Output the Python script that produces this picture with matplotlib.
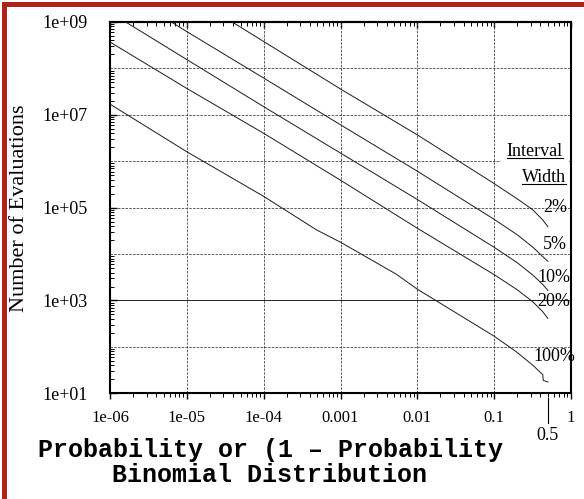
import matplotlib
matplotlib.use("Agg")
from matplotlib import pyplot as plt
from matplotlib.lines import Line2D
from matplotlib.patches import Rectangle
import numpy as np

# values (probability, number of evaluations)
p_2 = [3.9e-5, 1e-4, 1e-3, 1e-2, 0.1, 0.21, 0.32, 0.43, 0.5]
n_2 = [1e9, 3.8e8, 3.6e7, 3.7e6, 3.3e5, 1.46e5, 8.9e4, 5.4e4, 3.9e4]

p_5 = [6.3e-6, 1e-5, 1e-4, 1e-3, 1e-2, 0.1, 0.2, 0.32, 0.43, 0.5]
n_5 = [1e9, 6.2e8, 6.2e7, 6.1e6, 6.1e5, 5.6e4, 2.6e4, 1.4e4, 8.8e3, 7.0e3]

p_10 = [1.6e-6, 1e-5, 1e-4, 1e-3, 1e-2, 0.1, 0.2, 0.32, 0.43, 0.5]
n_10 = [1e9, 1.55e8, 1.5e7, 1.5e6, 1.5e5, 1.4e4, 6.5e3, 3.5e3, 2.2e3, 1.65e3]

p_20 = [1e-6, 1e-5, 1e-4, 1e-3, 1e-2, 0.1, 0.2, 0.32, 0.43, 0.5]
n_20 = [3.7e8, 3.7e7, 4.0e6, 3.9e5, 3.6e4, 3.6e3, 1.7e3, 930, 570, 410]

p_100 = [1e-6, 1e-5, 1e-4, 4.9e-4, 1e-3, 5.3e-3, 1e-2, 0.1, 0.195, 0.32, 0.43, 0.435, 0.5]
n_100 = [1.7e7, 1.6e6, 1.75e5, 3.3e4, 1.8e4, 3.7e3, 1.75e3, 170, 78, 40, 25, 19, 17.5]

series = [(p_2, n_2), (p_5, n_5), (p_10, n_10), (p_20, n_20), (p_100, n_100)]
width_labels = ["2%", "5%", "10%", "20%", "100%"]

x_ticks = [1e-6, 1e-5, 1e-4, 1e-3, 1e-2, 0.1, 1]
x_ticklabels = ["1e-06", "1e-05", "1e-04", "0.001", "0.01", "0.1", "1"]
y_ticks = [1e1, 1e3, 1e5, 1e7, 1e9]
y_ticklabels = ["1e+01", "1e+03", "1e+05", "1e+07", "1e+09"]

serif = "Liberation Serif"
mono = "Liberation Mono"

fig = plt.figure(figsize=(5.84, 4.99), dpi=100)
ax = fig.add_axes([110 / 584, 1 - 393.3 / 499, 461 / 584, 371.3 / 499])

for p, n in series:
    ax.plot(p, n, color="#1a1a1a", lw=0.7, zorder=3)

ax.set_xscale("log")
ax.set_yscale("log")
ax.set_xlim(1e-6, 1)
ax.set_ylim(1e1, 1e9)

# grid on every decade
for d in range(-5, 0):
    ax.axvline(10.0 ** d, color="#444444", lw=0.6, ls=(0, (3, 1.5)), zorder=1)
for d in range(2, 9):
    if d == 3:
        ax.axhline(10.0 ** d, color="#222222", lw=0.7, zorder=1)
    else:
        ax.axhline(10.0 ** d, color="#444444", lw=0.6, ls=(0, (3, 1.5)), zorder=1)

minor_loc = lambda: matplotlib.ticker.LogLocator(base=10, subs=np.arange(2, 10), numticks=20)

ax.set_xticks(x_ticks)
ax.set_xticklabels(x_ticklabels, fontfamily=serif, fontsize=12)
ax.set_yticks(y_ticks)
ax.set_yticklabels(y_ticklabels, fontfamily=serif, fontsize=13)
ax.yaxis.set_minor_locator(minor_loc())
ax.xaxis.set_minor_locator(minor_loc())
ax.yaxis.set_minor_formatter(matplotlib.ticker.NullFormatter())
ax.xaxis.set_minor_formatter(matplotlib.ticker.NullFormatter())
ax.tick_params(axis="y", which="both", direction="in", pad=16, right=False)
ax.tick_params(axis="y", which="major", length=5, width=1)
ax.tick_params(axis="y", which="minor", length=3, width=0.7)
ax.tick_params(axis="x", which="both", direction="out", pad=8)
ax.tick_params(axis="x", which="major", length=4, width=1)
ax.tick_params(axis="x", which="minor", length=3, width=0.7)
for s in ax.spines.values():
    s.set_linewidth(1.5)

# top ticks point inwards
top = ax.secondary_xaxis("top")
top.set_xticks(x_ticks)
top.xaxis.set_minor_locator(minor_loc())
top.xaxis.set_major_formatter(matplotlib.ticker.NullFormatter())
top.xaxis.set_minor_formatter(matplotlib.ticker.NullFormatter())
top.tick_params(which="both", direction="in")
top.tick_params(which="major", length=4, width=1)
top.tick_params(which="minor", length=3, width=0.7)
top.spines["top"].set_linewidth(1.5)

# special 0.5 marker under the axis
ax.plot([0.5, 0.5], [-0.013, -0.08], color="black", lw=0.8,
        transform=ax.get_xaxis_transform(), clip_on=False)
ax.text(0.5, -0.115, "0.5", transform=ax.get_xaxis_transform(),
        ha="center", va="center", fontfamily=serif, fontsize=13)

# width labels at the line ends
lab_pos = [(0.9913, 0.4992), (0.9913, 0.3995), (0.9978, 0.3106), (0.9978, 0.2459), (1.0087, 0.0978)]
for lab, (xx, yy) in zip(width_labels, lab_pos):
    ax.text(xx, yy, lab, transform=ax.transAxes, ha="right", va="center",
            fontfamily=serif, fontsize=13, zorder=4)

t1 = ax.text(0.9826, 0.6501, "Interval", transform=ax.transAxes, ha="right", va="center",
             fontfamily=serif, fontsize=13, zorder=4,
             bbox=dict(facecolor="white", edgecolor="none", pad=4))
t2 = ax.text(0.989, 0.5800, "Width", transform=ax.transAxes, ha="right", va="center",
             fontfamily=serif, fontsize=13, zorder=4)

fig.text(20 / 584, 1 - 208 / 499, "Number of Evaluations", rotation=90,
         ha="center", va="center", fontfamily=serif, fontsize=16)
fig.text(270 / 584, 1 - 450 / 499, "Probability or (1 \u2013 Probability",
         ha="center", va="center", fontfamily=mono, fontweight="bold", fontsize=18)
fig.text(270 / 584, 1 - 475 / 499, "Binomial Distribution",
         ha="center", va="center", fontfamily=mono, fontweight="bold", fontsize=18)

# red frame on the left and top
red = "#B0221A"
fig.add_artist(Rectangle((2 / 584, 0), 5 / 584, 497 / 499, transform=fig.transFigure,
                         facecolor=red, edgecolor="none"))
fig.add_artist(Rectangle((2 / 584, 492 / 499), 1, 5 / 499, transform=fig.transFigure,
                         facecolor=red, edgecolor="none"))

# underline the legend heading
fig.canvas.draw()
r = fig.canvas.get_renderer()
inv = fig.transFigure.inverted()
for t in (t1, t2):
    bb = t.get_window_extent(renderer=r)
    (fx0, fy), (fx1, _) = inv.transform([(bb.x0, bb.y0 + 2.5), (bb.x1, bb.y0 + 2.5)])
    fig.add_artist(Line2D([fx0, fx1], [fy, fy], transform=fig.transFigure, color="black", lw=0.8))

fig.savefig("out.png", dpi=100)
